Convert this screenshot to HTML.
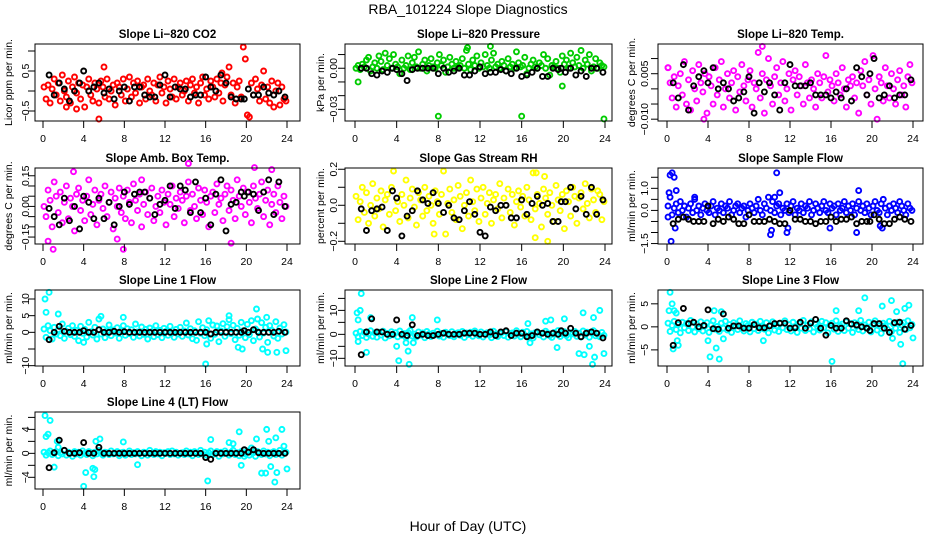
<!DOCTYPE html>
<html><head><meta charset="utf-8"><style>
html,body{margin:0;padding:0;background:#fff}
svg{display:block;font-family:"Liberation Sans",Arial,sans-serif}
</style></head><body>
<svg id="chart" width="936" height="540" viewBox="0 0 936 540">
<text x="468" y="14" text-anchor="middle" font-size="14">RBA_101224  Slope Diagnostics</text>
<text x="468" y="531" text-anchor="middle" font-size="14">Hour of Day (UTC)</text>
</svg>
<script>
const hoursC=[0.1,0.3,0.5,0.7,0.9,1.1,1.3,1.5,1.7,1.9,2.1,2.3,2.5,2.7,2.9,3.1,3.3,3.5,3.7,3.9,4.1,4.3,4.5,4.7,4.9,5.1,5.3,5.5,5.7,5.9,6.1,6.3,6.5,6.7,6.9,7.1,7.3,7.5,7.7,7.9,8.1,8.3,8.5,8.7,8.9,9.1,9.3,9.5,9.7,9.9,10.1,10.3,10.5,10.7,10.9,11.1,11.3,11.5,11.7,11.9,12.1,12.3,12.5,12.7,12.9,13.1,13.3,13.5,13.7,13.9,14.1,14.3,14.5,14.7,14.9,15.1,15.3,15.5,15.7,15.9,16.1,16.3,16.5,16.7,16.9,17.1,17.3,17.5,17.7,17.9,18.1,18.3,18.5,18.7,18.9,19.1,19.3,19.5,19.7,19.9,20.1,20.3,20.5,20.7,20.9,21.1,21.3,21.5,21.7,21.9,22.1,22.3,22.5,22.7,22.9,23.1,23.3,23.5,23.7,23.9];
const hoursB=[0.6,1.1,1.6,2.1,2.6,3.1,3.6,4.0,4.5,5.0,5.5,6.0,6.5,7.0,7.5,8.0,8.5,9.0,9.5,10.0,10.5,11.0,11.5,12.0,12.5,13.0,13.5,14.0,14.5,15.0,15.5,16.0,16.5,17.0,17.5,18.0,18.5,19.0,19.5,19.8,20.2,20.7,21.2,21.7,22.2,22.7,23.2,23.8];
const xTicks=[0,4,8,12,16,20,24];

const co2Vals=[0.1,-0.2,0.15,-0.3,0.05,0.3,-0.1,0.2,-0.25,0.4,0.0,-0.15,0.25,-0.3,0.1,0.35,-0.05,0.2,-0.2,0.15,-0.4,0.1,0.3,-0.1,-0.25,0.2,0.05,-0.3,0.25,0.1,-0.15,0.3,-0.2,0.0,0.15,-0.35,0.2,0.1,-0.1,0.3,-0.25,0.05,0.35,-0.15,0.2,-0.05,0.25,-0.3,0.1,0.15,-0.2,0.3,0.0,-0.1,0.2,-0.25,0.15,0.35,-0.05,0.1,-0.3,0.25,0.05,-0.15,0.3,-0.2,0.1,0.2,-0.1,0.0,0.25,-0.25,0.15,0.3,-0.05,0.1,-0.3,0.2,0.35,-0.1,0.05,-0.2,0.25,0.1,-0.15,0.3,-0.05,0.2,-0.25,0.15,0.35,0.6,-0.1,0.2,-0.3,0.1,0.25,-0.15,1.1,0.8,-0.6,-0.65,0.2,-0.1,0.3,0.05,-0.25,0.15,0.5,-0.2,0.1,-0.3,0.25,-0.4,0.0,0.2,-0.35,0.1,-0.2,-0.25];
const co2OutH=[5.5,6.0,3.3,2.3,17.6];
const co2OutV=[-0.7,0.6,-0.45,-0.4,0.45];
const co2Black=[0.4,-0.1,0.2,0.05,-0.25,0.0,0.2,0.5,0.0,0.1,0.2,-0.05,0.05,-0.2,0.0,0.1,-0.25,0.1,0.1,-0.1,-0.15,-0.15,0.15,0.4,-0.15,0.1,0.05,0.05,-0.15,-0.1,-0.1,0.35,0.1,0.0,0.4,0.2,-0.15,-0.2,-0.2,-0.2,0.05,-0.1,-0.1,0.1,-0.05,-0.1,0.0,-0.15];

const presVals=[0.0,0.002,-0.001,0.003,0.001,0.006,0.008,-0.002,0.001,0.004,0.0,0.009,0.005,-0.001,0.011,0.002,0.007,0.0,0.010,0.003,0.001,-0.004,0.006,0.0,0.002,0.009,-0.001,0.004,0.008,0.001,0.012,0.0,0.003,0.006,-0.002,0.002,0.007,0.001,0.0,0.004,0.010,0.002,0.006,-0.003,0.001,0.008,0.003,0.0,0.005,0.001,0.002,0.007,0.0,0.013,0.003,-0.001,0.006,0.002,0.009,0.0,0.004,0.001,0.010,0.002,0.0,0.006,0.011,0.001,0.003,0.0,0.005,0.002,-0.002,0.007,0.001,0.003,0.0,0.012,0.004,0.001,0.002,0.008,-0.004,0.0,0.003,0.006,0.001,0.0,0.004,0.002,0.010,0.0,0.007,-0.005,0.002,0.001,0.005,0.0,-0.003,0.009,0.003,0.006,0.0,0.011,0.004,0.001,0.008,0.002,0.013,0.0,0.006,0.003,0.010,-0.002,0.001,0.007,0.0,0.004,0.002,0.001];
const presOutH=[0.3,8.0,16.0,23.9,19.9,10.8,13.0];
const presOutV=[-0.010,-0.035,-0.035,-0.037,-0.013,0.015,0.016];
const presBlack=[0.0,0.0,-0.004,-0.005,-0.002,-0.003,0.0,-0.001,-0.004,-0.009,-0.001,0.0,0.0,0.0,0.0,-0.004,0.0,-0.003,-0.002,0.0,-0.005,-0.005,-0.002,0.001,-0.004,-0.003,-0.003,-0.001,-0.002,-0.004,0.0,-0.006,-0.005,-0.003,0.0,-0.006,-0.006,0.0,-0.001,0.0,-0.003,0.0,-0.005,-0.002,-0.006,0.0,0.0,-0.003];

const tempVals=[0.007,0.002,-0.003,0.004,-0.006,0.001,0.005,-0.002,0.009,-0.005,0.003,-0.007,0.006,0.0,-0.004,0.008,0.002,-0.001,0.005,-0.008,0.004,0.001,-0.005,0.007,-0.002,0.003,0.009,-0.006,0.0,0.005,-0.003,0.002,0.006,-0.007,0.004,-0.001,0.008,0.001,-0.004,0.003,0.006,-0.006,0.002,0.0,0.012,-0.003,0.005,-0.008,0.003,0.010,0.001,-0.005,0.004,0.007,-0.002,0.002,0.009,-0.004,0.0,0.005,-0.007,0.003,0.006,-0.002,0.004,0.001,-0.005,0.008,0.002,-0.003,0.003,0.0,-0.006,0.005,0.002,-0.003,0.004,0.011,-0.001,0.003,0.001,-0.004,0.005,0.002,-0.002,0.007,0.0,-0.006,0.003,0.001,0.004,-0.003,0.002,-0.008,0.006,0.001,0.009,-0.002,0.003,-0.005,0.011,0.0,-0.010,0.004,0.002,-0.004,0.007,0.001,-0.003,0.005,0.0,-0.005,0.003,0.006,-0.002,0.001,-0.006,0.004,0.008,0.002];
const tempOutH=[9.3,3.6,0.1];
const tempOutV=[0.014,-0.010,0.007];
const tempBlack=[0.002,-0.003,0.008,-0.007,0.001,0.004,0.006,0.002,0.007,0.0,0.002,0.0,-0.004,-0.003,-0.001,0.004,-0.008,0.002,-0.001,0.002,-0.002,-0.007,0.002,0.008,0.001,0.001,0.001,0.002,-0.002,-0.002,-0.002,-0.003,-0.001,-0.003,0.0,-0.004,0.007,0.004,-0.002,0.005,0.010,-0.003,-0.002,0.001,-0.003,-0.002,-0.002,0.003];

const ambVals=[0.0,-0.05,0.08,0.03,-0.1,0.12,0.05,-0.03,0.07,-0.08,0.02,0.1,-0.06,0.04,0.0,-0.12,0.06,0.09,-0.02,0.03,-0.07,0.05,0.13,-0.04,0.01,0.08,-0.09,0.03,0.06,-0.01,0.1,-0.05,0.02,0.07,-0.11,0.04,0.0,0.09,-0.03,0.05,-0.06,0.08,0.02,-0.08,0.11,0.03,-0.02,0.06,-0.1,0.01,0.07,-0.04,0.04,0.09,-0.07,0.0,0.05,-0.03,0.08,0.02,-0.09,0.06,0.01,0.1,-0.05,0.04,-0.01,0.07,0.03,-0.08,0.05,0.12,-0.02,0.06,0.0,-0.06,0.09,0.03,-0.04,0.08,0.02,-0.1,0.05,0.07,-0.03,0.11,0.01,0.04,-0.07,0.06,0.1,-0.02,0.08,0.03,-0.06,0.13,0.05,0.0,0.09,-0.04,0.07,0.02,-0.08,0.1,0.04,-0.01,0.06,0.12,-0.05,0.03,0.08,-0.09,0.01,0.06,-0.03,0.1,0.02,-0.06,0.05,0.0];
const ambOutH=[0.5,1.0,3.0,7.3,7.9,14.3,18.5,20.8,22.5,9.7];
const ambOutV=[-0.17,-0.21,0.17,-0.16,-0.21,0.21,-0.18,0.19,0.18,0.13];
const ambBlack=[-0.01,-0.05,-0.09,0.04,-0.07,0.0,-0.11,0.05,0.02,-0.06,0.04,-0.06,0.02,-0.09,0.0,0.07,0.01,0.06,0.07,0.07,0.04,-0.04,0.01,0.03,0.1,-0.01,0.1,0.08,-0.03,0.12,-0.03,0.04,-0.09,0.06,0.13,-0.12,0.01,0.02,0.07,0.05,0.07,0.06,-0.02,0.07,0.13,-0.04,0.12,0.0];

const rhVals=[0.05,-0.08,0.02,0.1,-0.04,0.07,-0.1,0.0,0.12,-0.06,0.04,-0.02,0.08,-0.12,0.03,0.06,-0.05,0.1,0.19,-0.03,0.02,-0.09,0.06,0.0,0.14,-0.07,0.04,0.09,-0.01,-0.11,0.07,0.03,-0.06,0.1,-0.03,0.05,0.0,-0.1,0.08,0.02,-0.05,0.06,0.19,-0.16,0.01,0.09,-0.04,0.03,-0.08,0.11,0.05,-0.13,0.0,0.07,-0.06,0.14,0.02,-0.03,0.09,-0.09,0.04,0.1,-0.05,0.01,0.07,-0.1,0.03,0.06,-0.02,0.12,-0.07,0.04,0.0,0.09,-0.04,0.06,-0.11,0.02,0.08,-0.01,0.05,-0.06,0.1,0.03,-0.08,0.18,-0.02,0.06,0.01,-0.12,0.09,0.04,-0.05,0.07,0.0,-0.09,0.11,0.03,-0.03,0.06,-0.13,0.08,0.02,-0.06,0.1,0.05,-0.1,0.04,0.07,-0.02,0.12,0.01,-0.07,0.09,0.03,-0.04,0.08,0.06,-0.08,0.02];
const rhOutH=[17.3,18.5,17.4,18.2,7.6];
const rhOutV=[-0.18,-0.2,0.18,0.16,-0.16];
const rhBlack=[-0.02,-0.14,-0.03,-0.02,-0.01,-0.14,0.08,0.04,-0.17,-0.06,-0.03,0.08,0.03,0.01,0.07,0.01,-0.04,0.0,-0.07,-0.08,-0.03,0.02,-0.05,-0.15,-0.17,-0.01,-0.03,0.0,0.0,-0.07,-0.07,0.03,-0.05,0.01,0.05,0.0,0.01,-0.09,-0.09,0.02,0.02,0.1,-0.02,0.05,-0.05,0.1,-0.05,0.03];

const flowVals=[0.2,0.6,-0.2,0.1,0.3,-0.1,0.4,0.0,0.2,-0.3,0.1,0.3,-0.1,0.5,0.0,0.2,-0.2,0.1,0.3,0.0,-0.1,0.2,0.4,-0.2,0.1,0.0,0.3,-0.1,0.2,0.1,0.4,-0.2,0.0,0.2,0.3,-0.1,0.1,0.2,-0.3,0.0,0.3,0.1,-0.1,0.2,0.5,0.0,-0.2,0.3,0.1,0.6,0.0,0.4,-0.1,0.2,0.3,-0.2,0.1,0.0,0.3,-0.1,0.2,0.4,-0.2,0.1,0.0,0.3,-0.1,0.2,0.1,0.4,-0.2,0.0,0.3,0.1,-0.1,0.2,0.4,0.0,-0.1,0.3,0.1,0.2,-0.2,0.3,0.0,0.1,0.4,-0.1,0.2,0.0,0.3,-0.2,0.1,0.4,0.0,0.2,-0.1,0.3,0.1,-0.2,0.2,0.4,0.0,-0.1,0.3,0.5,0.1,-0.2,0.2,0.0,0.3,0.1,-0.1,0.4,0.2,0.0,-0.2,0.3,0.1,0.0];
const flowOutH=[0.1,0.2,0.3,0.5,0.4,0.7,0.8,0.9,2.7,10.7,10.1,10.2,10.5,11.0,11.7,11.8,15.9,18.5,18.7,20.8,21.0];
const flowOutV=[-0.3,0.8,1.6,1.7,-1.4,1.5,-0.8,0.9,0.6,1.7,-1.1,-0.9,0.6,0.8,-1.0,-0.8,-0.8,-1.0,0.9,-0.7,-0.8];
const flowBlack=[-0.6,-0.4,-0.3,-0.4,-0.5,-0.5,-0.5,0.2,-0.6,-0.4,-0.5,-0.3,-0.4,-0.6,-0.6,-0.2,-0.5,-0.5,-0.5,-0.4,-0.5,-0.6,-0.6,0.0,-0.4,-0.4,-0.5,-0.5,-0.6,-0.5,-0.5,-0.3,-0.5,-0.4,-0.4,-0.3,-0.6,-0.5,-0.5,-0.5,-0.2,-0.4,-0.6,-0.6,-0.4,-0.3,-0.4,-0.5];

const l1Vals=[1,-1.5,2,0.5,-2,1.5,-0.5,0.8,-1,2.5,-1.8,0.3,1.2,-0.7,2,-1.2,0.6,-2.5,1.8,-0.3,0.9,-1.4,3,0.2,-0.8,1.5,-2,4,-0.5,1,-1.6,0.4,2.2,-1,0.7,-0.2,1.4,-1.8,0.5,2,-0.9,1.1,-0.4,0.8,-1.5,2.5,0.1,-1.1,1.6,-0.6,0.9,-2,1.3,0.2,-1.3,2,-0.7,0.6,-1.6,1.2,0.3,-0.9,1.8,-0.2,-1.5,0.9,-0.5,1.5,-1.2,0.4,2.8,-0.8,1.1,-1.9,0.5,-2.4,3.2,-0.3,1.4,-1,0.8,3.5,-1.8,2.2,-0.6,1.9,-2.8,0.4,2.6,-1.2,1.7,3.8,-0.4,2.1,-2.2,1.2,-0.9,3,0.5,-1.6,2.4,-0.7,3.5,-2.5,1,0.3,-1.4,2.9,-0.2,1.5,-3,2,0.6,-1.1,3.2,-1.8,1.3,-0.5,2.3,0.1];
const l1OutH=[0.2,0.3,0.6,1.5,4.0,5.7,7.9,16.0,16.1,19.2,19.6,21.0,21.1,22.0,21.6,22.1,23.0,23.9,18.3];
const l1OutV=[10,6,12,5.5,-3,4.8,4.5,-9.5,-3.5,-4.5,-5,7,4,4.5,-5,-6,-6,-5.5,5];
const l1Black=[-2.2,0,1.8,0.3,0,0,0,0.5,0,0,0.8,0,0,0.3,0,0.2,0,0,0,0,0,0,0,0,0,0,0,0,0,0,0,0,-0.5,0,0,0,0,0,0,0.5,0,0.8,0,0,0,0,0.3,0];

const l2Vals=[0.5,-1,1.2,-0.5,0.8,-1.3,0.2,1.5,-0.8,0.6,-1.2,0.9,-0.3,1.3,-1.5,0.4,-0.6,1.1,-0.2,0.7,-1,1.4,-0.4,0.3,-1.3,0.8,1.6,-0.7,0.1,-1.1,1,-0.3,0.6,-1.4,1.2,0.2,-0.9,0.5,-0.2,1.3,-0.7,0.4,-1.2,0.9,0.1,-0.5,1.1,-1,0.3,0.7,-0.4,1.2,-1.3,0.6,-0.1,0.9,-0.8,1.4,0.2,-0.6,1,-1.1,0.4,0.7,-0.3,-1.4,1.3,0.1,-0.9,0.5,0.8,-0.5,1.1,-1.2,0.3,0.6,-0.7,1.5,0,-1,0.9,-0.4,1.2,-0.8,0.2,-1.5,0.7,1,-0.2,0.4,-1.1,1.3,0.5,-0.6,-1.3,0.8,0.1,1.6,-0.9,0.3,1.1,-0.5,-1.4,0.7,0.2,1.2,-0.8,0.5,-1.1,1.4,-0.3,0.9,-1.2,0.6,1.5,-0.6,0.2,-1,0.8,-0.4];
const l2OutH=[0.2,0.3,0.5,0.6,0.3,1.1,1.5,4.0,4.2,5.2,5.1,4.9,5.5,5.6,7.9,16.6,16.8,18.3,18.8,19.4,20.1,21.5,21.9,22.0,22.5,22.8,22.9,23.0,23.5,23.9];
const l2OutV=[9,6,10,17,-3,-7.5,7,-5,-11,-12.5,-7,-3.5,7,-3.5,6,4.5,-3.5,5.5,6,-5.5,6.5,-8,9,-8.5,-5,-12.5,7,-9.5,10,-8];
const l2Black=[-8.5,1,6.5,1,1,0,0,6,0,-0.5,4,-0.5,0,-0.5,-0.5,0,0.5,0,0,0,0.5,0.5,0.5,0,0,1,-0.5,1,1.5,-0.5,0.5,0.5,-1,-0.5,1,0.5,0,0.5,0,1.5,0.5,2.5,0.5,-1,0.5,1,0.5,-1.5];

const l3Vals=[0.8,-1,0.3,1.2,-0.6,0.5,-1.3,1,-0.2,0.7,-0.8,1.4,0,-1.1,0.6,-0.4,1.1,-0.9,0.2,0.9,-1.2,0.4,1.3,-0.5,0.1,-1,0.8,-0.3,1.2,-0.7,0.5,-1.2,0.9,0.2,-0.6,1.3,-0.1,-0.9,0.7,0.3,-1.1,1,-0.4,0.6,-0.8,1.2,0,-0.5,0.9,-1.3,0.4,1.1,-0.7,0.2,-1,0.8,-0.2,1.3,-0.6,0.5,-0.9,1,0.1,-1.2,0.7,-0.3,1.4,-0.8,0.3,-0.4,1.1,-1.1,0.6,0,-0.7,1.2,-0.2,0.9,-1.3,0.4,0.8,-0.5,1.3,-1,0.2,0.6,-0.8,1.1,-0.3,0.7,-1.2,0.9,0.1,-0.6,1.4,-0.9,0.4,-0.1,1,-1.1,0.5,1.3,-0.7,0.2,-1.4,0.8,0.3,-0.5,1.2,-1,0.6,-0.3,1,-1.2,0.4,0.9,-0.6,1.3,-0.2,0.5];
const l3OutH=[0.3,0.2,0.5,0.7,0.9,0.6,1.0,1.1,4.0,4.2,4.8,4.6,5.1,5.3,5.5,9.4,16.1,16.5,18.7,19.3,21.0,21.9,22.4,22.8,23.0,23.2,23.6,24.0,22.0];
const l3OutV=[7.5,3.5,5,3.5,3,-4.8,-3,-4,-3,-6.5,-4.6,3.5,-7,3.3,-2.6,-3,-7.5,3.5,3.5,6.3,4.5,5.7,3.3,-3.8,-8,4,4.7,-2.4,-2.5];
const l3Black=[-4,0.9,4,0.7,1,0,0.3,3.7,-0.4,-0.5,2.8,-0.3,0.2,0.2,-0.3,-0.3,0.5,-0.2,-0.2,0.2,0.7,0.8,0.8,-0.3,-0.2,1,-0.3,0.8,1.6,-0.3,-1.8,0.3,-0.3,-0.3,1.3,0.6,0.4,0,-0.3,-0.8,0.7,0.7,-0.3,-1.2,0.9,1,-0.5,0.3];

const l4Vals=[0.2,-0.3,0.1,0.4,-0.2,0,0.3,-0.4,0.1,-0.1,0.5,-0.3,0.2,0,-0.5,0.3,-0.1,0.2,-0.3,0.4,0,-0.2,0.3,0.1,-0.4,0.2,-0.1,0.5,0,-0.3,0.2,0.1,-0.2,0.4,-0.1,0,0.3,-0.4,0.1,0.2,-0.3,0,0.4,-0.2,0.1,-0.1,0.3,0,-0.4,0.2,0.1,-0.3,0.5,0,-0.2,0.3,-0.1,0.2,-0.4,0.1,0,0.3,-0.2,0.4,-0.1,0.2,-0.3,0,0.1,-0.2,0.4,-0.1,0.2,-0.4,0.3,0,-0.2,0.5,-0.1,0.2,-0.3,0.1,0.4,-0.2,0,0.3,-0.5,0.2,-0.1,0.4,0,-0.3,0.2,0.5,-0.2,0.1,-0.4,0.3,0,-0.1,0.4,-0.3,0.2,0.1,-0.5,0.3,0,-0.2,0.4,-0.1,0.2,-0.4,0.1,0.3,-0.2,0,0.5,-0.3,0.1,0.2];
const l4OutH=[0.2,0.3,0.5,0.7,1.1,1.4,1.5,4.0,4.2,4.9,5.0,5.1,5.2,5.6,7.9,9.3,16.2,16.5,18.3,18.7,19.3,19.5,21.0,21.5,21.9,22.0,22.2,22.4,22.8,22.9,23.0,23.5,23.7,24.0,19.8,20.5];
const l4OutV=[6.3,2.8,3.2,5.5,-2.3,2,1,-5.5,-3.2,-2.5,-3.9,-2.7,2,2.4,1.9,-1.9,-4.6,2.3,1.8,1.6,3.6,-2,2.4,-3.3,-3.3,4,2,-2.2,-4.8,2.6,-3.2,4,1.2,-2.6,-0.5,0.9];
const l4Black=[-2.4,0.1,2.2,0.5,0,0,0.1,1.8,0,0,1,0,0,0,0,0,0,0,0,0,0,0,0,0,0,0,0,0,0,0,0,-0.7,-1,0,0,0,0,0,0,0.6,0.2,0.6,0.1,0,0,0,0,0];

const co2Ticks=[-0.5,0,0.5,1.0];    const co2Labels=["\u22120.5","","0.5",""];
const presTicks=[-0.03,-0.02,-0.01,0,0.01]; const presLabels=["\u22120.03","","","0.00",""];
const tempTicks=[-0.010,-0.005,0,0.005,0.010]; const tempLabels=["\u22120.010","","","0.005",""];
const ambTicks=[-0.15,-0.10,-0.05,0,0.05,0.10,0.15]; const ambLabels=["\u22120.15","","","0.00","","","0.15"];
const rhTicks=[-0.2,-0.1,0,0.1,0.2]; const rhLabels=["\u22120.2","","0.0","","0.2"];
const flowTicks=[-1.5,-1.0,-0.5,0,0.5,1.0,1.5]; const flowLabels=["\u22121.5","","","0.0","","1.0",""];
const l1Ticks=[-10,-5,0,5,10]; const l1Labels=["\u221210","","0","5","10"];
const l2Ticks=[-10,-5,0,5,10,15]; const l2Labels=["\u221210","","0","","10",""];
const l3Ticks=[-5,0,5]; const l3Labels=["\u22125","0","5"];
const l4Ticks=[-4,-2,0,2,4,6]; const l4Labels=["\u22124","","0","","4",""];

const cols=[{bl:35,br:300,x0:43,x24:287,yl:12,tl:29},{bl:345,br:612,x0:355,x24:605,yl:324,tl:337},{bl:658,br:923,x0:667,x24:913,yl:635,tl:648}];
const rows=[{t:44,b:121},{t:168,b:244},{t:290,b:366},{t:412,b:489}];

const panels=[
 {name:"co2",title:"Slope Li\u2212820 CO2",yl:"Licor ppm per min.",c:0,r:0,col:"#ff0000",v:co2Vals,oh:co2OutH,ov:co2OutV,bk:co2Black,tk:co2Ticks,lb:co2Labels,ymin:-0.75,ymax:1.175},
 {name:"pressure",title:"Slope Li\u2212820 Pressure",yl:"kPa per min.",c:1,r:0,col:"#00cc00",v:presVals,oh:presOutH,ov:presOutV,bk:presBlack,tk:presTicks,lb:presLabels,ymin:-0.0385,ymax:0.0177},
 {name:"temp",title:"Slope Li\u2212820 Temp.",yl:"degrees C per min.",c:2,r:0,col:"#ff00ff",v:tempVals,oh:tempOutH,ov:tempOutV,bk:tempBlack,tk:tempTicks,lb:tempLabels,ymin:-0.0106,ymax:0.0148},
 {name:"amb-box-temp",title:"Slope Amb. Box Temp.",yl:"degrees C per min.",c:0,r:1,col:"#ff00ff",v:ambVals,oh:ambOutH,ov:ambOutV,bk:ambBlack,tk:ambTicks,lb:ambLabels,ymin:-0.184,ymax:0.188},
 {name:"gas-rh",title:"Slope Gas Stream RH",yl:"percent per min.",c:1,r:1,col:"#ffff00",v:rhVals,oh:rhOutH,ov:rhOutV,bk:rhBlack,tk:rhTicks,lb:rhLabels,ymin:-0.215,ymax:0.207},
 {name:"sample-flow",title:"Slope Sample Flow",yl:"ml/min per min.",c:2,r:1,col:"#0000ff",v:flowVals,oh:flowOutH,ov:flowOutV,bk:flowBlack,tk:flowTicks,lb:flowLabels,ymin:-1.52,ymax:1.92},
 {name:"line1-flow",title:"Slope Line 1 Flow",yl:"ml/min per min.",c:0,r:2,col:"#00ffff",v:l1Vals,oh:l1OutH,ov:l1OutV,bk:l1Black,tk:l1Ticks,lb:l1Labels,ymin:-10.1,ymax:12.7},
 {name:"line2-flow",title:"Slope Line 2 Flow",yl:"ml/min per min.",c:1,r:2,col:"#00ffff",v:l2Vals,oh:l2OutH,ov:l2OutV,bk:l2Black,tk:l2Ticks,lb:l2Labels,ymin:-13.2,ymax:18.5},
 {name:"line3-flow",title:"Slope Line 3 Flow",yl:"ml/min per min.",c:2,r:2,col:"#00ffff",v:l3Vals,oh:l3OutH,ov:l3OutV,bk:l3Black,tk:l3Ticks,lb:l3Labels,ymin:-8.5,ymax:8.0},
 {name:"line4-flow",title:"Slope Line 4 (LT) Flow",yl:"ml/min per min.",c:0,r:3,col:"#00ffff",v:l4Vals,oh:l4OutH,ov:l4OutV,bk:l4Black,tk:l4Ticks,lb:l4Labels,ymin:-5.95,ymax:6.9}
];

const NS="http://www.w3.org/2000/svg";
const svg=document.getElementById("chart");
function mk(tag,attrs,parent){const e=document.createElementNS(NS,tag);for(const k in attrs)e.setAttribute(k,attrs[k]);parent.appendChild(e);return e;}

panels.forEach(p=>{
  const C=cols[p.c],R=rows[p.r];
  const sx=h=>C.x0+h*(C.x24-C.x0)/24;
  const sy=v=>R.t+(p.ymax-v)/(p.ymax-p.ymin)*(R.b-R.t);
  const g=mk("g",{},svg);
  
  
  const t=mk("text",{x:(C.bl+C.br)/2,y:R.t-6,"text-anchor":"middle","font-size":"11.5","font-weight":"bold"},g);
  t.textContent=p.title;
  
  
  const yt=mk("text",{transform:`translate(${C.yl},${(R.t+R.b)/2}) rotate(-90)`,"text-anchor":"middle","font-size":"10.5"},g);
  yt.textContent=p.yl;
  
  
  const pg=mk("g",{fill:"none","stroke-width":"1.9"},g);
  
  
  p.v.forEach((v,i)=>{
    const c=mk("circle",{cx:sx(hoursC[i]),cy:sy(v),r:2.5,stroke:p.col},pg);
    
    
  });
  p.oh.forEach((h,i)=>{
    const c=mk("circle",{cx:sx(h),cy:sy(p.ov[i]),r:2.5,stroke:p.col},pg);
    
    
  });
  p.bk.forEach((v,i)=>{
    const c=mk("circle",{cx:sx(hoursB[i]),cy:sy(v),r:2.5,stroke:"#000"},pg);
    
    
  });
  const box=mk("rect",{x:C.bl,y:R.t,width:C.br-C.bl,height:R.b-R.t,fill:"none",stroke:"#000","stroke-width":"1"},g);
  
  
  const xa=mk("g",{},g);
  
  
  mk("line",{x1:sx(xTicks[0]),x2:sx(xTicks[xTicks.length-1]),y1:R.b,y2:R.b,stroke:"#000"},xa);
  xTicks.forEach(h=>{
    mk("line",{x1:sx(h),x2:sx(h),y1:R.b,y2:R.b+7,stroke:"#000"},xa);
    const l=mk("text",{x:sx(h),y:R.b+21,"text-anchor":"middle","font-size":"10.5"},xa);
    l.textContent=String(h);
    
    
  });
  const ya=mk("g",{},g);
  
  
  mk("line",{x1:C.bl,x2:C.bl,y1:sy(p.tk[0]),y2:sy(p.tk[p.tk.length-1]),stroke:"#000"},ya);
  p.tk.forEach((v,i)=>{
    mk("line",{x1:C.bl-7,x2:C.bl,y1:sy(v),y2:sy(v),stroke:"#000"},ya);
    if(p.lb[i]){
      const l=mk("text",{transform:`translate(${C.tl},${sy(v)}) rotate(-90)`,"text-anchor":"middle","font-size":"10.5"},ya);
      l.textContent=p.lb[i];
      
      
    }
  });
});
</script>
</body></html>
